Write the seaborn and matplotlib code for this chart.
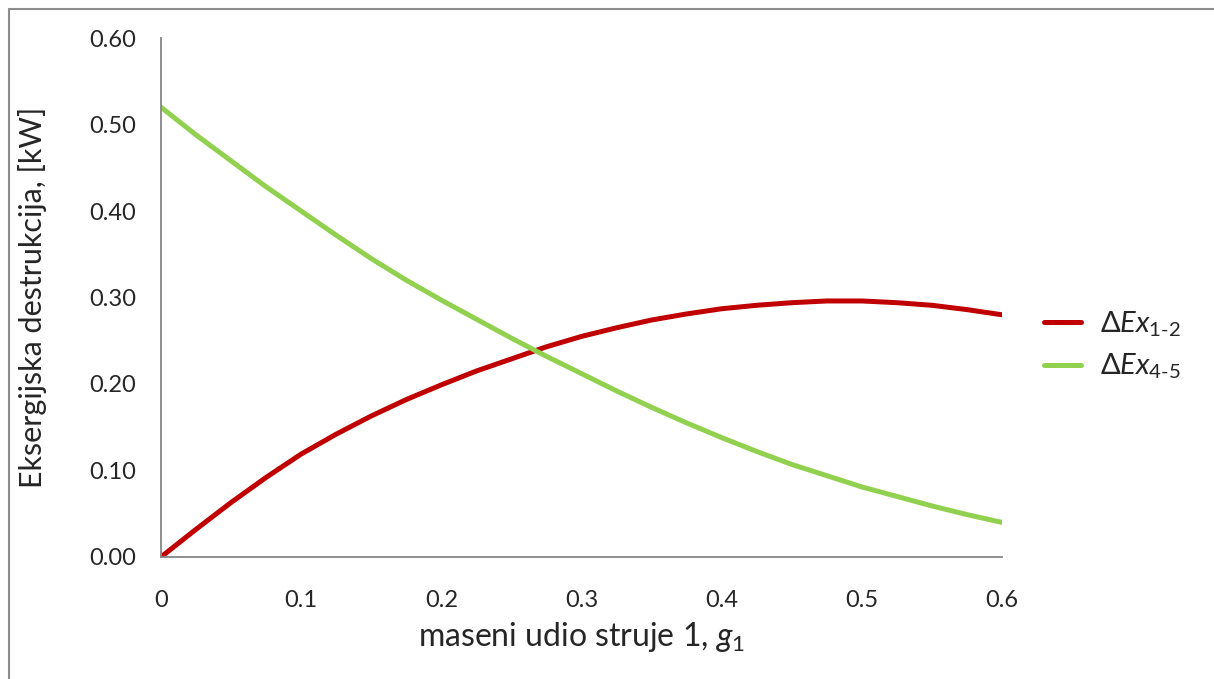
import pandas as pd
import seaborn as sns
import matplotlib.pyplot as plt
from matplotlib.lines import Line2D

# podaci ocitani s grafa
g1 = [0.0, 0.025, 0.05, 0.075, 0.1, 0.125, 0.15, 0.175, 0.2, 0.225, 0.25, 0.275, 0.3,
      0.325, 0.35, 0.375, 0.4, 0.425, 0.45, 0.475, 0.5, 0.525, 0.55, 0.575, 0.6]
ex_12 = [0.0, 0.032, 0.063, 0.092, 0.119, 0.142, 0.163, 0.182, 0.199, 0.215, 0.229, 0.243, 0.255,
         0.265, 0.274, 0.281, 0.287, 0.291, 0.294, 0.296, 0.296, 0.294, 0.291, 0.286, 0.280]
ex_45 = [0.520, 0.488, 0.458, 0.428, 0.400, 0.372, 0.345, 0.320, 0.297, 0.275, 0.253, 0.232, 0.212,
         0.192, 0.173, 0.155, 0.138, 0.122, 0.107, 0.094, 0.081, 0.070, 0.059, 0.049, 0.040]
serije = [r"$\mathit{ΔEx}_{\mathregular{1\text{-}2}}$", r"$\mathit{ΔEx}_{\mathregular{4\text{-}5}}$"]
y_ticks = [0.0, 0.1, 0.2, 0.3, 0.4, 0.5, 0.6]
x_ticks = [0, 0.1, 0.2, 0.3, 0.4, 0.5, 0.6]


def main():
    df = pd.DataFrame({"g1": g1 + g1,
                       "Ex": ex_12 + ex_45,
                       "serija": [serije[0]] * len(g1) + [serije[1]] * len(g1)})

    sns.set_theme(style="white")
    plt.rcParams["font.family"] = ["Lato", "DejaVu Sans"]
    plt.rcParams["mathtext.fontset"] = "custom"
    plt.rcParams["mathtext.rm"] = "Lato"
    plt.rcParams["mathtext.it"] = "Lato:italic"

    fig = plt.figure(figsize=(12.14, 6.79), dpi=100)
    ax = fig.add_axes([0.1326, 0.1797, 0.6928, 0.7643])
    sns.lineplot(data=df, x="g1", y="Ex", hue="serija",
                 palette=["#C00000", "#92D050"], linewidth=3.6, ax=ax, legend=False)

    ax.set_xlim(0, 0.6)
    ax.set_ylim(0, 0.6)
    ax.set_xticks(x_ticks)
    ax.set_xticklabels(["0", "0.1", "0.2", "0.3", "0.4", "0.5", "0.6"])
    ax.set_yticks(y_ticks)
    ax.set_yticklabels([f"{v:.2f}" for v in y_ticks])
    ax.tick_params(axis="both", length=0, labelsize=17)
    ax.tick_params(axis="x", pad=24)
    ax.tick_params(axis="y", pad=18)
    for s in ["top", "right"]:
        ax.spines[s].set_visible(False)
    for s in ["left", "bottom"]:
        ax.spines[s].set_color("#868686")
        ax.spines[s].set_linewidth(1.3)

    ax.set_xlabel(r"maseni udio struje 1, $\mathit{g}_{\mathregular{1}}$", fontsize=23, labelpad=6)
    ax.set_ylabel("Eksergijska destrukcija, [kW]", fontsize=22, labelpad=30)

    handles = [Line2D([], [], color="#C00000", lw=3.6),
               Line2D([], [], color="#92D050", lw=3.6)]
    ax.legend(handles, serije, loc="center left", bbox_to_anchor=(1.019, 0.408),
              frameon=False, fontsize=21, handlelength=1.25, handletextpad=0.65,
              labelspacing=0.45)

    # okvir grafikona
    fig.add_artist(Line2D([9 / 1214, 9 / 1214], [0, 1 - 9 / 679],
                          transform=fig.transFigure, color="#8c8c8c", lw=1.5))
    fig.add_artist(Line2D([9 / 1214, 1], [1 - 9 / 679, 1 - 9 / 679],
                          transform=fig.transFigure, color="#8c8c8c", lw=1.5))

    fig.savefig("out.png", dpi=100)


if __name__ == "__main__":
    main()
